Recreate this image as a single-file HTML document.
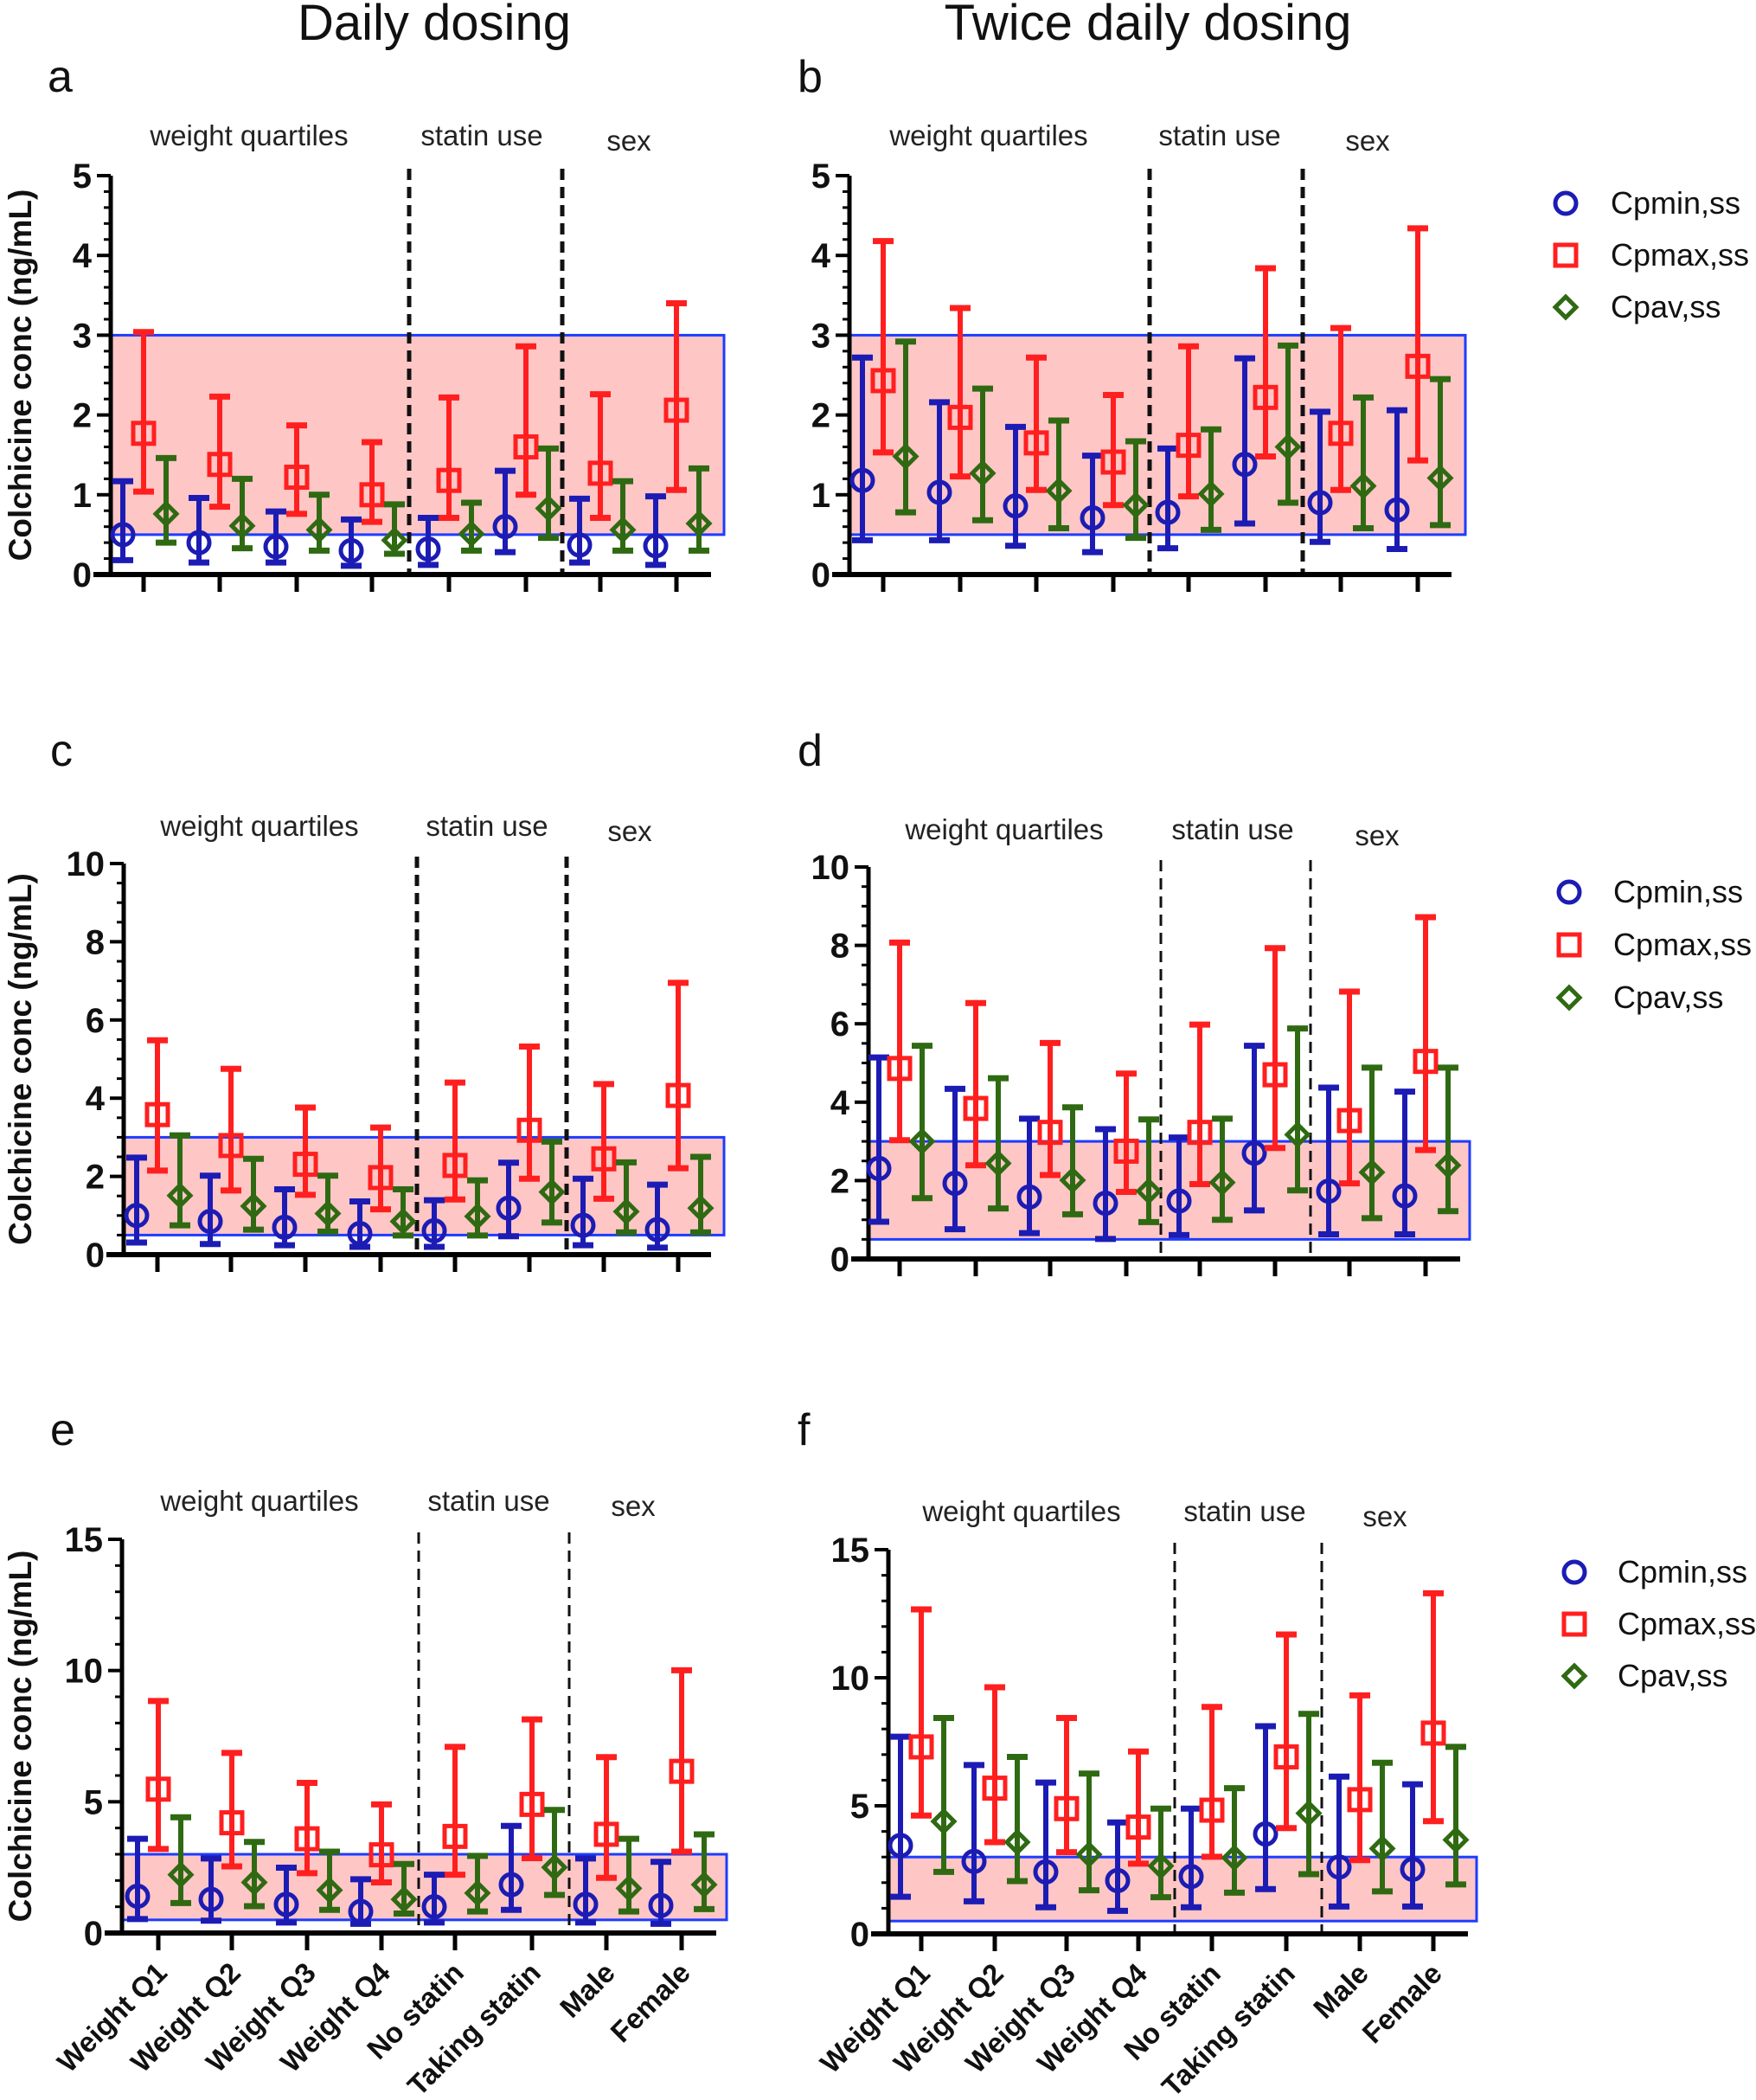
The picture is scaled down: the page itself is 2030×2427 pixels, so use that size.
<!DOCTYPE html>
<html><head><meta charset="utf-8">
<style>
html,body{margin:0;padding:0;background:#fff;}
svg{display:block;font-family:"Liberation Sans",Arial,sans-serif;}
</style></head>
<body>
<svg id="fig" width="2030" height="2427" viewBox="0 0 2030 2427" xmlns="http://www.w3.org/2000/svg">
<text x="502" y="46" font-size="58" text-anchor="middle" fill="#111">Daily dosing</text>
<text x="1327" y="46" font-size="58" text-anchor="middle" fill="#111">Twice daily dosing</text>
</svg>
<script>
const categories = ["Weight Q1","Weight Q2","Weight Q3","Weight Q4","No statin","Taking statin","Male","Female"];
const groupLabels = ["weight quartiles","statin use","sex"];
const seriesNames = ["Cpmin,ss","Cpmax,ss","Cpav,ss"];
const bandRange = [0.5, 3];

// panel a
const aMinMean=[0.5,0.4,0.35,0.3,0.32,0.6,0.37,0.36];
const aMinLo=[0.18,0.15,0.15,0.11,0.12,0.28,0.15,0.12];
const aMinHi=[1.17,0.96,0.79,0.69,0.71,1.3,0.95,0.98];
const aMaxMean=[1.77,1.38,1.22,1.0,1.18,1.6,1.27,2.06];
const aMaxLo=[1.04,0.85,0.76,0.66,0.71,1.0,0.71,1.06];
const aMaxHi=[3.04,2.23,1.87,1.66,2.22,2.86,2.26,3.4];
const aAvMean=[0.76,0.61,0.56,0.43,0.51,0.83,0.56,0.64];
const aAvLo=[0.4,0.33,0.3,0.26,0.3,0.46,0.3,0.3];
const aAvHi=[1.46,1.2,1.0,0.88,0.9,1.58,1.17,1.33];
// panel b
const bMinMean=[1.18,1.03,0.86,0.71,0.78,1.38,0.9,0.81];
const bMinLo=[0.43,0.43,0.36,0.28,0.33,0.64,0.41,0.32];
const bMinHi=[2.72,2.16,1.85,1.49,1.58,2.71,2.04,2.06];
const bMaxMean=[2.43,1.97,1.65,1.41,1.62,2.22,1.77,2.61];
const bMaxLo=[1.53,1.23,1.06,0.87,0.98,1.48,1.06,1.43];
const bMaxHi=[4.18,3.34,2.72,2.25,2.86,3.84,3.09,4.34];
const bAvMean=[1.48,1.27,1.05,0.87,1.01,1.6,1.11,1.21];
const bAvLo=[0.78,0.68,0.58,0.46,0.56,0.9,0.58,0.62];
const bAvHi=[2.92,2.33,1.93,1.67,1.82,2.87,2.22,2.45];
// panel c
const cMinMean=[1.0,0.85,0.7,0.54,0.61,1.19,0.75,0.64];
const cMinLo=[0.31,0.27,0.24,0.2,0.2,0.47,0.24,0.18];
const cMinHi=[2.48,2.02,1.67,1.36,1.39,2.35,1.94,1.79];
const cMaxMean=[3.58,2.79,2.31,1.97,2.28,3.18,2.45,4.07];
const cMaxLo=[2.15,1.64,1.53,1.16,1.41,1.94,1.43,2.21];
const cMaxHi=[5.48,4.75,3.76,3.25,4.4,5.32,4.36,6.95];
const cAvMean=[1.51,1.24,1.05,0.85,0.98,1.6,1.1,1.19];
const cAvLo=[0.75,0.64,0.59,0.49,0.49,0.82,0.57,0.57];
const cAvHi=[3.05,2.45,2.02,1.67,1.9,2.89,2.36,2.5];
// panel d
const dMinMean=[2.31,1.93,1.58,1.42,1.48,2.7,1.73,1.61];
const dMinLo=[0.95,0.76,0.66,0.51,0.61,1.24,0.63,0.63];
const dMinHi=[5.14,4.34,3.58,3.31,3.1,5.44,4.37,4.27];
const dMaxMean=[4.86,3.84,3.23,2.75,3.23,4.7,3.53,5.04];
const dMaxLo=[3.03,2.39,2.14,1.71,1.91,2.83,1.93,2.78];
const dMaxHi=[8.07,6.53,5.51,4.73,5.98,7.93,6.82,8.72];
const dAvMean=[3.0,2.44,2.01,1.73,1.95,3.17,2.21,2.39];
const dAvLo=[1.55,1.29,1.14,0.94,1.0,1.75,1.04,1.22];
const dAvHi=[5.44,4.61,3.87,3.56,3.58,5.88,4.88,4.88];
// panel e
const eMinMean=[1.4,1.28,1.09,0.82,1.0,1.84,1.09,1.05];
const eMinLo=[0.53,0.47,0.4,0.35,0.4,0.88,0.4,0.35];
const eMinHi=[3.59,2.84,2.49,2.05,2.22,4.08,2.84,2.71];
const eMaxMean=[5.48,4.2,3.59,2.98,3.68,4.9,3.76,6.16];
const eMaxLo=[3.2,2.54,2.28,1.93,2.22,2.85,2.1,3.1];
const eMaxHi=[8.84,6.86,5.72,4.9,7.09,8.14,6.7,10.01];
const eAvMean=[2.22,1.93,1.63,1.28,1.52,2.5,1.7,1.84];
const eAvLo=[1.14,1.02,0.88,0.74,0.82,1.45,0.82,0.91];
const eAvHi=[4.41,3.47,3.1,2.63,2.94,4.69,3.59,3.76];
// panel f
const fMinMean=[3.45,2.83,2.42,2.08,2.24,3.9,2.61,2.52];
const fMinLo=[1.45,1.27,1.04,0.9,1.04,1.75,1.07,1.07];
const fMinHi=[7.7,6.59,5.91,4.35,4.89,8.11,6.14,5.84];
const fMaxMean=[7.3,5.69,4.89,4.17,4.83,6.91,5.24,7.84];
const fMaxLo=[4.62,3.58,3.19,2.74,3.01,4.13,2.88,4.4];
const fMaxHi=[12.67,9.63,8.43,7.12,8.86,11.69,9.31,13.3];
const fAvMean=[4.39,3.58,3.1,2.65,2.97,4.71,3.33,3.67];
const fAvLo=[2.42,2.06,1.7,1.43,1.61,2.33,1.66,1.93];
const fAvHi=[8.43,6.91,6.26,4.89,5.69,8.59,6.68,7.3];

const aTicks=[0,1,2,3,4,5], cTicks=[0,2,4,6,8,10], eTicks=[0,5,10,15];

const NS="http://www.w3.org/2000/svg";
const svg=document.getElementById('fig');
function mk(tag,attrs,parent){const e=document.createElementNS(NS,tag);for(const k in attrs)e.setAttribute(k,attrs[k]);(parent||svg).appendChild(e);return e;}

const COL=["#1c1cb4","#ff1f1f","#2f6a12"];

const panels=[
 {id:'a',ax:128,y0:664,yTop:203,ymax:5,ticks:aTicks,minor:0.2,xs:[166,254,343,430,519,608,694,782],axR:822,bandR:837,dash:[473,650],lab:[55,106],gy:[168,174],gx:[288,557,727],title:true,xl:false,legend:null,
  data:[[aMinMean,aMinLo,aMinHi],[aMaxMean,aMaxLo,aMaxHi],[aAvMean,aAvLo,aAvHi]]},
 {id:'b',ax:982,y0:664,yTop:203,ymax:5,ticks:aTicks,minor:0.2,xs:[1021,1110,1198,1287,1374,1463,1550,1639],axR:1678,bandR:1694,dash:[1329,1506],lab:[922,106],gy:[168,174],gx:[1143,1410,1581],title:false,xl:false,legend:[1810,1862,235,60],
  data:[[bMinMean,bMinLo,bMinHi],[bMaxMean,bMaxLo,bMaxHi],[bAvMean,bAvLo,bAvHi]]},
 {id:'c',ax:143,y0:1450,yTop:998,ymax:10,ticks:cTicks,minor:0.5,xs:[182,267,353,440,526,612,698,784],axR:822,bandR:837,dash:[482,655],lab:[58,885],gy:[966,972],gx:[300,563,728],title:true,xl:false,legend:null,
  data:[[cMinMean,cMinLo,cMinHi],[cMaxMean,cMaxLo,cMaxHi],[cAvMean,cAvLo,cAvHi]]},
 {id:'d',ax:1004,y0:1455,yTop:1002,ymax:10,ticks:cTicks,minor:0.5,xs:[1040,1128,1214,1302,1387,1474,1560,1648],axR:1688,bandR:1699,dash:[1342,1515],lab:[922,885],gy:[970,977],gx:[1161,1425,1592],title:false,xl:false,legend:[1814,1865,1031,61],
  data:[[dMinMean,dMinLo,dMinHi],[dMaxMean,dMaxLo,dMaxHi],[dAvMean,dAvLo,dAvHi]]},
 {id:'e',ax:141,y0:2234,yTop:1779,ymax:15,ticks:eTicks,minor:1,xs:[183,268,355,441,526,615,701,788],axR:828,bandR:840,dash:[484,658],lab:[58,1670],gy:[1746,1752],gx:[300,565,732],title:true,xl:true,legend:null,
  data:[[eMinMean,eMinLo,eMinHi],[eMaxMean,eMaxLo,eMaxHi],[eAvMean,eAvLo,eAvHi]]},
 {id:'f',ax:1027,y0:2235,yTop:1791,ymax:15,ticks:eTicks,minor:1,xs:[1065,1150,1233,1316,1401,1487,1572,1657],axR:1697,bandR:1707,dash:[1358,1528],lab:[922,1670],gy:[1758,1764],gx:[1181,1439,1601],title:false,xl:true,legend:[1820,1870,1817,60],
  data:[[fMinMean,fMinLo,fMinHi],[fMaxMean,fMaxLo,fMaxHi],[fAvMean,fAvLo,fAvHi]]}
];
const offs=[-24,0,26];

function marker(g,type,x,y,col){
  let m;
  if(type===0) m=mk('circle',{cx:x,cy:y,r:12,fill:'none',stroke:col,'stroke-width':5},g);
  else if(type===1) m=mk('rect',{x:x-12,y:y-12,width:24,height:24,fill:'none',stroke:col,'stroke-width':5},g);
  else m=mk('polygon',{points:`${x},${y-12} ${x+12},${y} ${x},${y+12} ${x-12},${y}`,fill:'none',stroke:col,'stroke-width':5},g);
  return m;
}

panels.forEach(p=>{
  const Y=v=>p.y0-(v/p.ymax)*(p.y0-p.yTop);
  const g=mk('g',{});
  
  
  const lab=mk('text',{x:p.lab[0],y:p.lab[1],'font-size':52,fill:'#111'},g);
  lab.textContent=p.id;
  
  
  const band=mk('rect',{x:p.ax,y:Y(bandRange[1]),width:p.bandR-p.ax,height:Y(bandRange[0])-Y(bandRange[1]),fill:'#ffc6c6',stroke:'#1d3cff','stroke-width':3},g);
  
  
  p.dash.forEach((dx,i)=>{
    const l=mk('line',{x1:dx,x2:dx,y1:p.yTop-8,y2:p.y0,stroke:'#111','stroke-width':(p.id==='a'||p.id==='b'||p.id==='c')?5:3,'stroke-dasharray':'13 8'},g);
    
    
  });
  groupLabels.forEach((t,i)=>{
    const tx=mk('text',{x:p.gx[i],y:i===2?p.gy[1]:p.gy[0],'font-size':33,'text-anchor':'middle',fill:'#222'},g);
    tx.textContent=t;
    
    
  });
  const ya=mk('line',{x1:p.ax,x2:p.ax,y1:p.yTop,y2:p.y0+2,stroke:'#000','stroke-width':5},g);
  
  
  for(let v=0; v<=p.ymax+1e-9; v+=p.minor){
    mk('line',{x1:p.ax-8,x2:p.ax,y1:Y(v),y2:Y(v),stroke:'#000','stroke-width':3},g);
  }
  p.ticks.forEach(v=>{
    mk('line',{x1:p.ax-16,x2:p.ax,y1:Y(v),y2:Y(v),stroke:'#000','stroke-width':4},g);
    const t=mk('text',{x:p.ax-22,y:Y(v)+14,'font-size':40,'font-weight':'bold','text-anchor':'end',fill:'#111'},g);
    t.textContent=v;
    
    
  });
  if(p.title){
    const cy=(p.y0+p.yTop)/2;
    const t=mk('text',{x:0,y:0,'font-size':37,'font-weight':'bold','text-anchor':'middle',fill:'#111',transform:`translate(36,${cy}) rotate(-90)`},g);
    t.textContent='Colchicine conc (ng/mL)';
    
    
  }
  const xa=mk('line',{x1:p.ax-20,x2:p.axR,y1:p.y0,y2:p.y0,stroke:'#000','stroke-width':6},g);
  
  
  p.xs.forEach((x,i)=>{
    mk('line',{x1:x,x2:x,y1:p.y0,y2:p.y0+20,stroke:'#000','stroke-width':5},g);
    if(p.xl){
      const t=mk('text',{x:0,y:0,'font-size':33,'font-weight':'bold','text-anchor':'end',fill:'#111',transform:`translate(${x+12},${p.y0+48}) rotate(-45)`},g);
      t.textContent=categories[i];
      
      
    }
  });
  p.data.forEach((s,si)=>{
    const [mean,lo,hi]=s;
    mean.forEach((m,i)=>{
      const x=p.xs[i]+offs[si];
      const col=COL[si];
      const eb=mk('g',{},g);
      
      
      mk('line',{x1:x,x2:x,y1:Y(hi[i]),y2:Y(lo[i]),stroke:col,'stroke-width':6},eb);
      mk('line',{x1:x-12,x2:x+12,y1:Y(hi[i]),y2:Y(hi[i]),stroke:col,'stroke-width':7},eb);
      mk('line',{x1:x-12,x2:x+12,y1:Y(lo[i]),y2:Y(lo[i]),stroke:col,'stroke-width':7},eb);
      const mm=marker(eb,si,x,Y(m),col);
      
      
    });
  });
  if(p.legend){
    const [mx,tx,ly,dy]=p.legend;
    seriesNames.forEach((n,i)=>{
      const lg=mk('g',{},g);
      
      
      marker(lg,i,mx,ly+dy*i,COL[i]);
      const t=mk('text',{x:tx,y:ly+dy*i+12,'font-size':36,fill:'#111'},lg);
      t.textContent=n;
    });
  }
});
</script>
</body></html>
